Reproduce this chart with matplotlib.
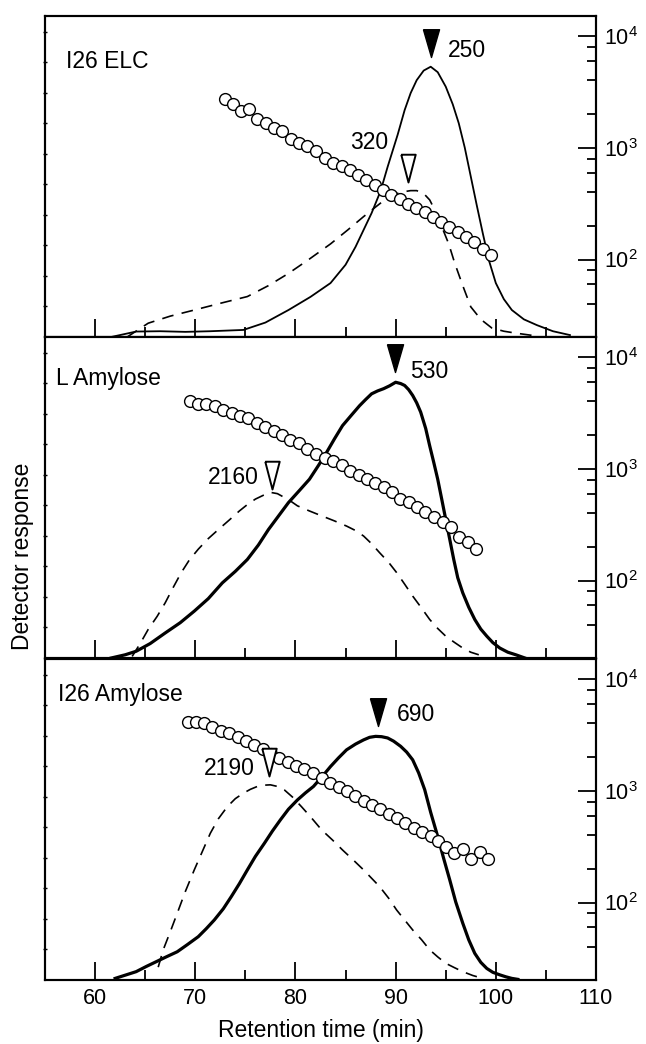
import numpy as np
import matplotlib
matplotlib.use("Agg")
import matplotlib.pyplot as plt
from matplotlib.ticker import MultipleLocator, LogLocator, NullFormatter

plt.rcParams['font.family'] = ['Liberation Sans', 'DejaVu Sans']
plt.rcParams['mathtext.default'] = 'regular'

# ---- data ----
panel_names = ["I26 ELC", "L Amylose", "I26 Amylose"]

# solid trace (left axis, relative response)
solid_t = [
    [61.6, 64.1, 66.5, 69.0, 71.5, 74.8, 77.0, 79.3, 81.5, 83.5, 85.0, 86.0, 87.6, 88.5, 89.2, 90.2,
     90.9, 91.5, 92.1, 92.8, 93.5, 94.2, 95.0, 95.7, 96.3, 96.9, 97.5, 98.1, 98.7, 99.3, 100.0,
     100.8, 101.6, 102.8, 104.1, 105.7, 107.4],
    [61.6, 63.0, 64.1, 65.5, 67.0, 68.5, 69.9, 71.3, 72.7, 74.0, 75.2, 76.3, 77.3, 78.3, 79.3, 80.4,
     81.4, 82.3, 83.1, 83.9, 84.7, 85.6, 86.4, 87.0, 87.6, 88.2, 88.8, 89.4, 90.0, 90.5, 90.9, 91.3,
     91.7, 92.1, 92.5, 93.0, 93.4, 93.8, 94.2, 94.6, 95.0, 95.4, 95.8, 96.2, 96.7, 97.3, 97.9, 98.5,
     99.1, 99.7, 100.4, 101.2, 102.0, 102.9],
    [62.0, 63.0, 64.1, 65.1, 66.1, 67.1, 68.2, 69.2, 70.3, 71.1, 71.9, 72.8, 73.6, 74.4, 75.2, 76.0,
     76.9, 77.7, 78.5, 79.3, 80.2, 81.0, 81.8, 82.7, 83.5, 84.3, 85.1, 86.0, 86.8, 87.4, 88.0, 88.6,
     89.2, 89.8, 90.5, 91.1, 91.7, 92.3, 92.9, 93.5, 94.2, 94.8, 95.4, 96.0, 96.7, 97.3, 97.9, 98.5,
     99.1, 99.7, 100.4, 101.0, 101.6, 102.2],
]
solid_y = [
    [0.000, 0.017, 0.018, 0.016, 0.018, 0.022, 0.045, 0.084, 0.125, 0.168, 0.225, 0.281, 0.386, 0.455,
     0.530, 0.630, 0.707, 0.760, 0.800, 0.830, 0.842, 0.825, 0.780, 0.725, 0.666, 0.590, 0.500, 0.410,
     0.323, 0.240, 0.168, 0.118, 0.084, 0.055, 0.037, 0.018, 0.006],
    [0.000, 0.010, 0.021, 0.045, 0.078, 0.110, 0.146, 0.185, 0.234, 0.270, 0.307, 0.352, 0.400, 0.442,
     0.484, 0.522, 0.557, 0.600, 0.640, 0.683, 0.724, 0.757, 0.786, 0.805, 0.823, 0.832, 0.839, 0.848,
     0.859, 0.855, 0.849, 0.836, 0.818, 0.795, 0.766, 0.715, 0.661, 0.610, 0.557, 0.495, 0.432, 0.370,
     0.307, 0.250, 0.203, 0.158, 0.120, 0.090, 0.068, 0.048, 0.031, 0.018, 0.010, 0.000],
    [0.005, 0.015, 0.026, 0.042, 0.057, 0.072, 0.088, 0.110, 0.135, 0.160, 0.187, 0.222, 0.260, 0.300,
     0.343, 0.385, 0.426, 0.464, 0.499, 0.532, 0.561, 0.583, 0.603, 0.635, 0.665, 0.692, 0.717, 0.735,
     0.748, 0.756, 0.759, 0.758, 0.754, 0.744, 0.728, 0.710, 0.686, 0.645, 0.593, 0.522, 0.447, 0.378,
     0.312, 0.243, 0.177, 0.125, 0.083, 0.055, 0.036, 0.024, 0.016, 0.010, 0.005, 0.002],
]

# dashed trace (left axis, relative response)
dash_t = [
    [63.2, 65.3, 67.5, 69.9, 72.5, 75.2, 77.3, 79.3, 81.4, 83.5, 85.2, 86.8, 88.0, 88.9, 89.9, 90.9,
     91.5, 92.1, 92.8, 93.4, 94.0, 94.6, 95.3, 95.9, 96.7, 97.5, 98.5, 99.6, 100.8, 102.0, 104.1],
    [63.7, 64.5, 65.3, 66.2, 67.0, 67.8, 68.6, 69.4, 70.3, 71.3, 72.3, 73.4, 74.4, 75.2, 76.0, 76.8,
     77.5, 78.2, 78.9, 79.6, 80.2, 81.4, 82.6, 83.9, 85.1, 86.0, 86.8, 87.6, 88.4, 89.3, 90.1, 90.9,
     91.7, 92.6, 93.4, 94.2, 95.0, 95.9, 96.7, 97.5, 98.3],
    [66.3, 66.8, 67.5, 68.2, 69.0, 69.9, 70.7, 71.5, 72.3, 73.2, 74.0, 74.8, 75.5, 76.2, 76.9, 77.5,
     78.2, 78.9, 79.7, 80.6, 81.6, 82.6, 83.7, 84.7, 85.8, 86.8, 87.6, 88.4, 89.3, 90.1, 90.9, 91.7,
     92.6, 93.4, 94.2, 95.0, 95.9, 96.7, 97.7, 98.7],
]
dash_y = [
    [0.000, 0.043, 0.065, 0.084, 0.105, 0.126, 0.160, 0.198, 0.243, 0.290, 0.333, 0.375, 0.405, 0.427,
     0.445, 0.453, 0.456, 0.456, 0.447, 0.427, 0.390, 0.344, 0.290, 0.230, 0.160, 0.094, 0.055, 0.028,
     0.018, 0.012, 0.003],
    [0.005, 0.045, 0.089, 0.130, 0.172, 0.220, 0.266, 0.305, 0.339, 0.372, 0.400, 0.430, 0.458, 0.478,
     0.495, 0.507, 0.516, 0.512, 0.500, 0.487, 0.474, 0.458, 0.443, 0.427, 0.411, 0.397, 0.380, 0.356,
     0.328, 0.298, 0.266, 0.230, 0.193, 0.155, 0.120, 0.092, 0.068, 0.048, 0.031, 0.018, 0.010],
    [0.040, 0.094, 0.150, 0.208, 0.275, 0.343, 0.400, 0.457, 0.502, 0.540, 0.565, 0.582, 0.594, 0.603,
     0.607, 0.608, 0.603, 0.592, 0.570, 0.540, 0.505, 0.468, 0.436, 0.405, 0.373, 0.343, 0.317, 0.291,
     0.255, 0.218, 0.187, 0.156, 0.125, 0.094, 0.072, 0.052, 0.038, 0.026, 0.014, 0.005],
]

# open circles (right axis)
circ_t = [
    [73.0, 73.8, 74.6, 75.4, 76.2, 77.1, 77.9, 78.7, 79.6, 80.4, 81.2, 82.1, 82.9, 83.7, 84.6, 85.4,
     86.2, 87.0, 87.9, 88.7, 89.5, 90.4, 91.2, 92.0, 92.9, 93.7, 94.5, 95.3, 96.2, 97.0, 97.8, 98.7,
     99.5],
    [69.5, 70.3, 71.1, 72.0, 72.8, 73.7, 74.5, 75.3, 76.2, 77.0, 77.9, 78.7, 79.5, 80.4, 81.2, 82.1,
     82.9, 83.7, 84.6, 85.4, 86.3, 87.1, 87.9, 88.8, 89.6, 90.4, 91.3, 92.1, 92.9, 93.8, 94.7, 95.5,
     96.3, 97.2, 98.0],
    [69.3, 70.1, 70.9, 71.7, 72.6, 73.4, 74.3, 75.1, 75.9, 76.8, 77.6, 78.4, 79.3, 80.1, 80.9, 81.8,
     82.6, 83.4, 84.3, 85.1, 85.9, 86.8, 87.6, 88.4, 89.3, 90.1, 90.9, 91.8, 92.6, 93.5, 94.2, 95.0,
     95.8, 96.7, 97.5, 98.4, 99.2],
]
circ_v = [
    [2710, 2443, 2115, 2203, 1793, 1674, 1510, 1410, 1205, 1094, 1035, 933, 813, 734, 685, 627,
     565, 510, 460, 418, 377, 345, 317, 290, 265, 241, 216, 196, 177, 160, 143, 125, 109],
    [4036, 3767, 3767, 3664, 3350, 3130, 2963, 2824, 2547, 2377, 2173, 2001, 1806, 1686, 1499, 1343,
     1255, 1172, 1079, 953, 877, 802, 739, 690, 622, 542, 506, 457, 412, 372, 335, 303, 246, 219, 193],
    [4093, 4093, 4009, 3741, 3444, 3260, 3045, 2766, 2582, 2360, 2129, 1962, 1793, 1674, 1563, 1429,
     1298, 1163, 1071, 1000, 902, 813, 750, 685, 618, 569, 520, 469, 424, 395, 356, 311, 280, 300,
     244, 286, 244],
]

# peak markers: filled = solid trace, open = dashed trace
peak_solid_t = [93.5, 89.9, 88.25]
peak_solid_lbl = ["250", "530", "690"]
peak_dash_t = [91.2, 77.7, 77.4]
peak_dash_lbl = ["320", "2160", "2190"]

# ---- figure ----
W, H = 646, 1044
fig = plt.figure(figsize=(W / 100, H / 100), dpi=100)

left = 45 / W
width = 551 / W
ph = 321 / H
bottoms = [1 - 337 / H, 1 - 658 / H, 1 - 980 / H]

# annotation placements (y in left-axis units)
solid_tip = [0.873, 0.891, 0.790]
solid_txt = [(97.1, 0.894), (93.4, 0.891), (92.0, 0.826)]
dash_tip = [0.484, 0.526, 0.634]
dash_txt = [(87.4, 0.607), (73.8, 0.5625), (73.4, 0.660)]
name_pos = [(0.039, 0.858), (0.020, 0.870), (0.024, 0.889)]
solid_lw = [1.3, 2.3, 2.3]

filled_tri = [(-0.29, 1.0), (0.29, 1.0), (0.0, 0.0), (-0.29, 1.0)]
open_tri = [(-0.26, 1.0), (0.26, 1.0), (0.0, 0.0), (-0.26, 1.0)]

fs = 16.5
for i in range(3):
    ax = fig.add_axes([left, bottoms[i], width, ph])
    ax.plot(solid_t[i], solid_y[i], color='k', lw=solid_lw[i], zorder=2)
    ax.plot(dash_t[i], dash_y[i], color='k', lw=1.2, ls=(0, (7, 5)), zorder=2)
    ax.set_xlim(55, 110)
    ax.set_ylim(0, 1)

    ax.xaxis.set_major_locator(MultipleLocator(10))
    ax.xaxis.set_minor_locator(MultipleLocator(5))
    ax.tick_params(axis='x', which='major', direction='in', length=13, width=1.3,
                   labelsize=15.5, pad=6, top=False)
    ax.tick_params(axis='x', which='minor', direction='in', length=7, width=1.3, top=False)
    if i < 2:
        ax.tick_params(axis='x', labelbottom=False)
    ax.set_yticks(np.arange(1, 11) * 0.0951)
    ax.tick_params(axis='y', direction='inout', length=3, width=1, labelleft=False, right=False)
    for s in ax.spines.values():
        s.set_linewidth(1.5)

    ax2 = ax.twinx()
    ax2.set_yscale('log')
    ax2.set_ylim(10 ** 1.307, 10 ** 4.179)
    ax2.plot(circ_t[i], circ_v[i], 'o', ms=8.5, mfc='white', mec='k', mew=1.0, zorder=3)
    ax2.yaxis.set_major_locator(LogLocator(base=10, numticks=10))
    ax2.yaxis.set_minor_locator(LogLocator(base=10, subs=(2, 4, 6, 8), numticks=10))
    ax2.yaxis.set_minor_formatter(NullFormatter())
    ax2.tick_params(axis='y', which='major', direction='in', length=13, width=1.3,
                    labelsize=15.5, pad=6)
    ax2.tick_params(axis='y', which='minor', direction='in', length=6.5, width=1.3)
    for s in ax2.spines.values():
        s.set_linewidth(1.5)

    # peak triangles and values, drawn above the circles in left-axis units
    ax2.plot(peak_solid_t[i], solid_tip[i], marker=filled_tri, ms=40, mfc='k', mec='k', mew=1,
             ls='none', zorder=4, transform=ax.transData)
    ax2.plot(peak_dash_t[i], dash_tip[i], marker=open_tri, ms=40, mfc='white', mec='k', mew=1.4,
             ls='none', zorder=4, transform=ax.transData)
    ax.text(solid_txt[i][0], solid_txt[i][1], peak_solid_lbl[i], fontsize=fs, ha='center', va='center')
    ax.text(dash_txt[i][0], dash_txt[i][1], peak_dash_lbl[i], fontsize=fs, ha='center', va='center')
    ax.text(name_pos[i][0], name_pos[i][1], panel_names[i], transform=ax.transAxes,
            fontsize=fs, ha='left', va='center')

    if i == 2:
        ax.set_xlabel("Retention time (min)", fontsize=fs, labelpad=7)

fig.text(23 / W, 1 - 556 / H, "Detector response", rotation=90, fontsize=fs,
         ha='center', va='center')

fig.savefig("out.png", dpi=100)
